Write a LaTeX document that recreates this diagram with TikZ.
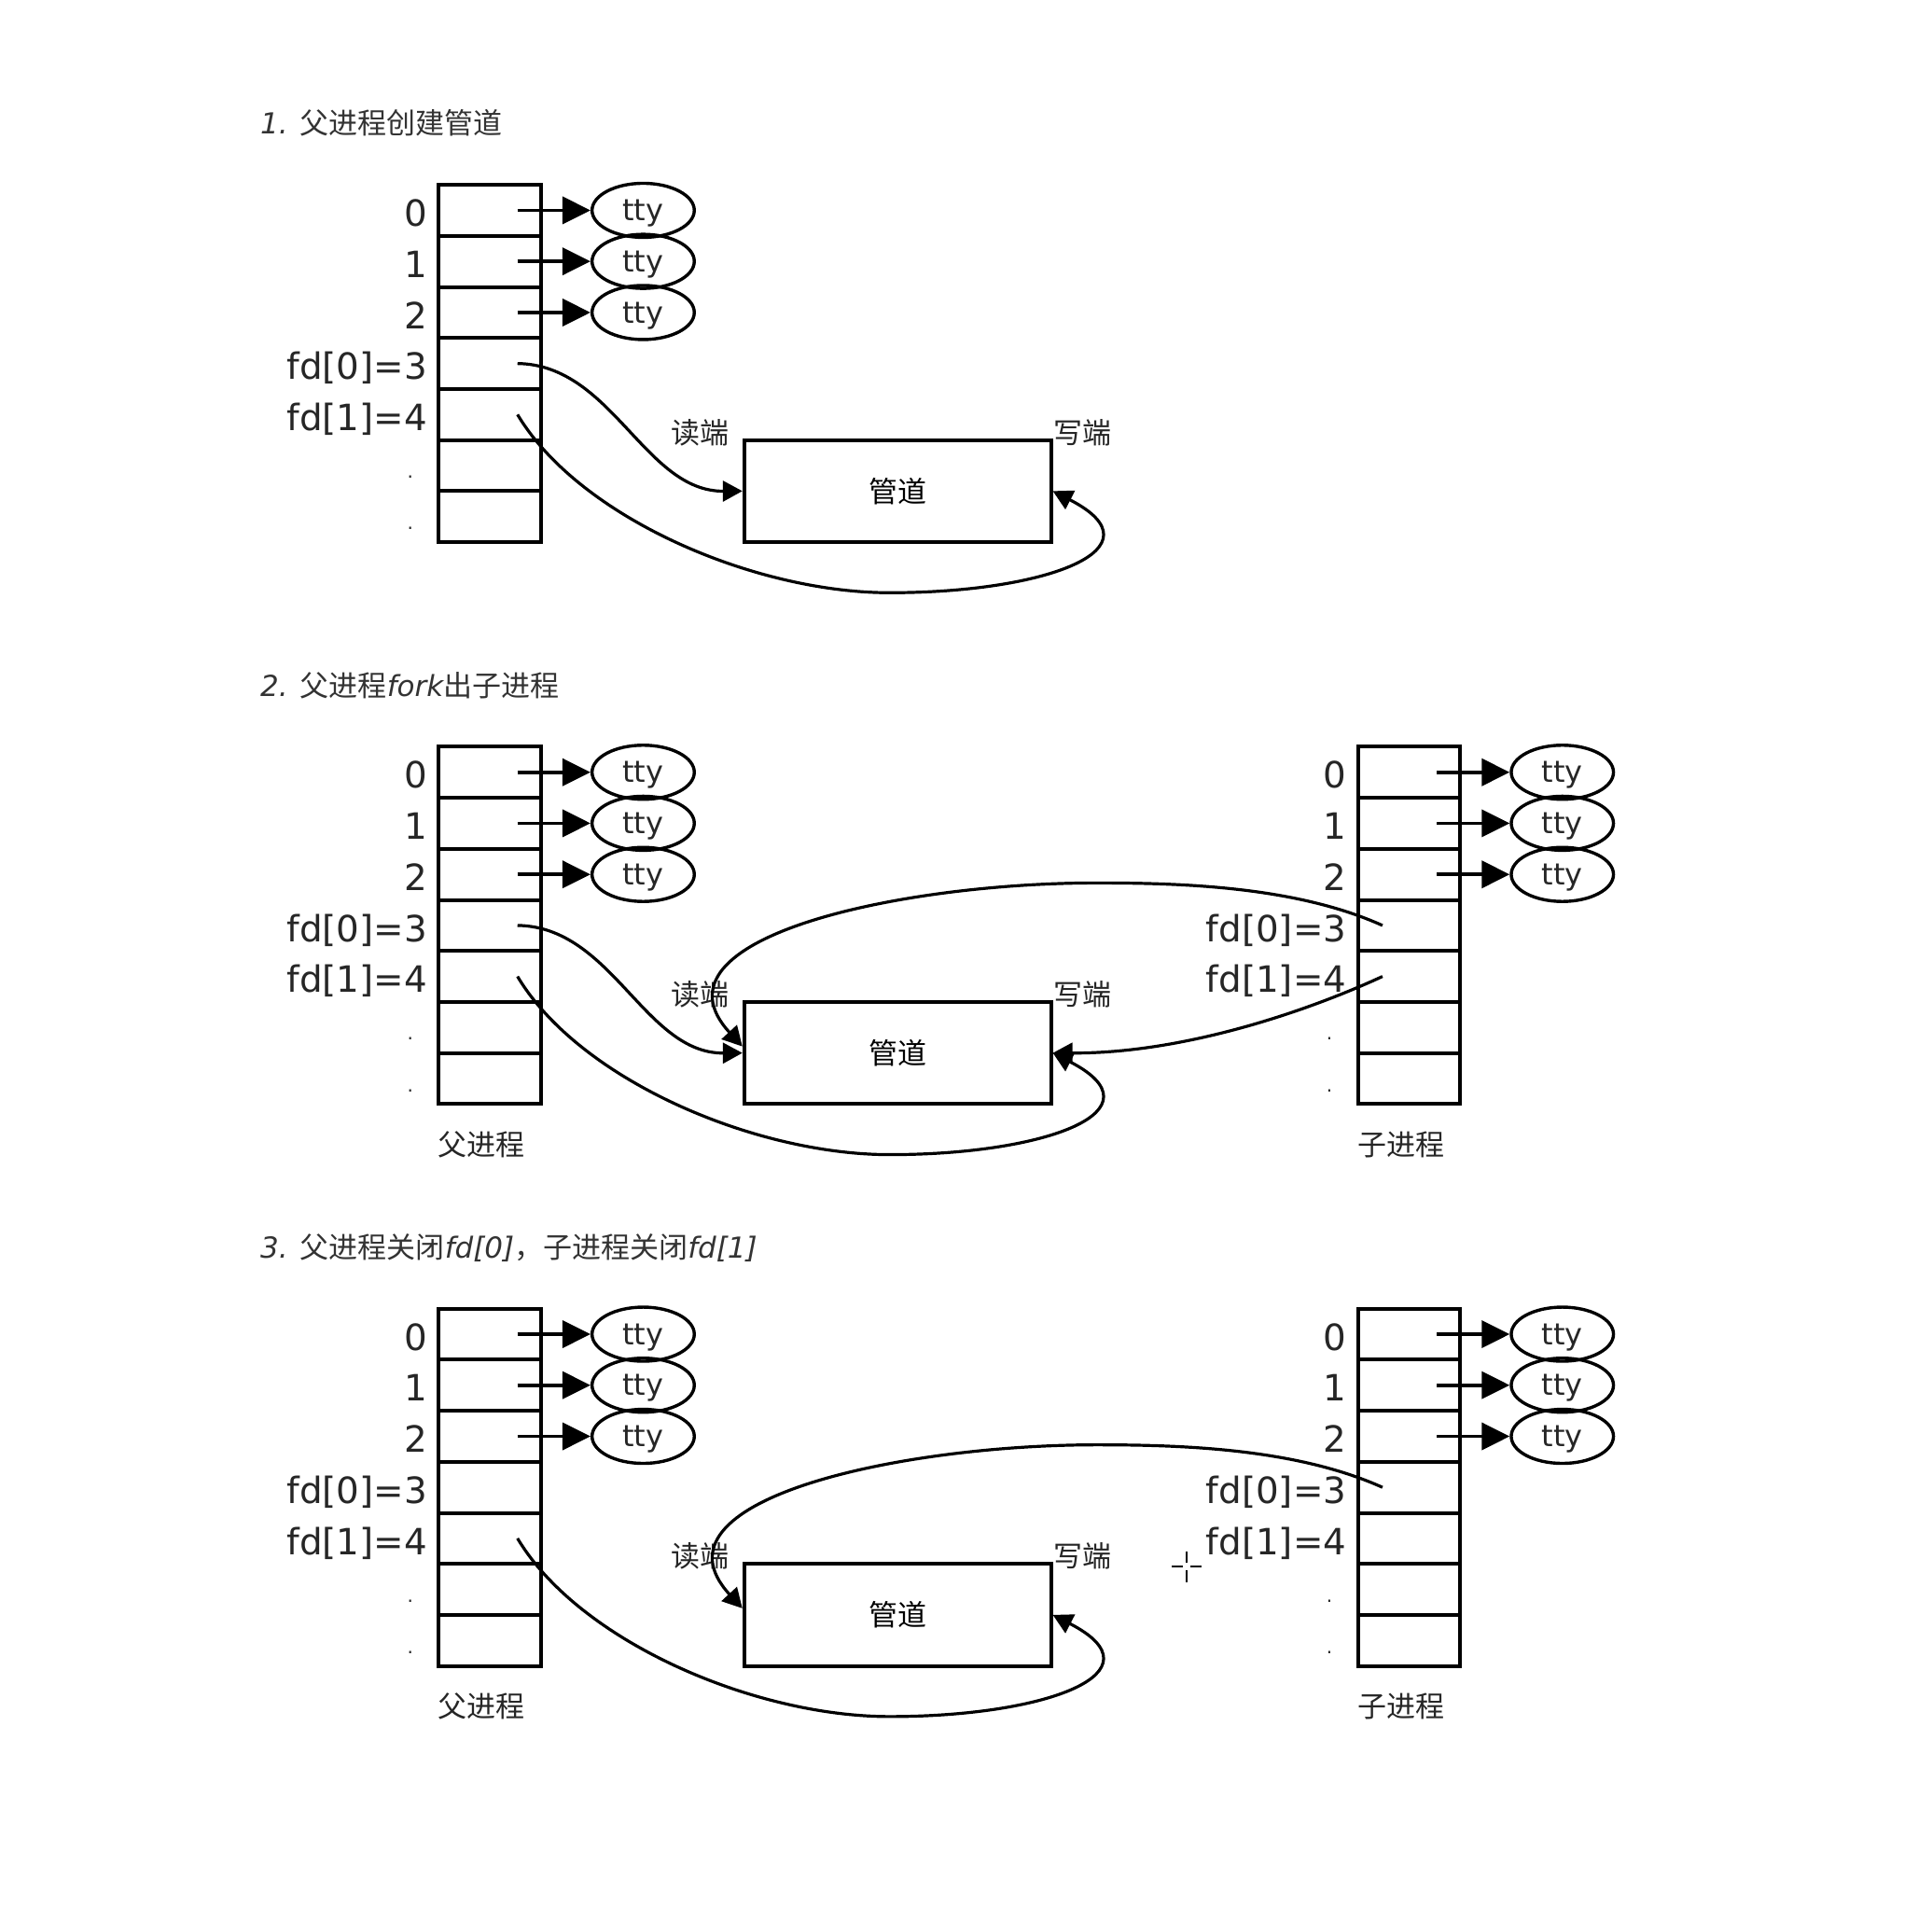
\documentclass[tikz,border=0pt]{standalone}
\usepackage{fontspec}
\setmainfont{DejaVu Sans}
\newfontfamily\cjk{Noto Sans CJK SC}
\usetikzlibrary{arrows.meta,shapes.geometric}

\tikzset{
  rowbox/.style={draw, line width=2pt, minimum width=54.8pt, minimum height=27.36pt, inner sep=0pt, outer sep=0pt},
  lab/.style={anchor=base east, inner sep=0pt, font=\fontsize{19.4}{22}\selectfont, text=black!85},
  dotlab/.style={anchor=base, inner sep=0pt, font=\fontsize{10}{12}\selectfont, text=black!85},
  ttyn/.style={draw, ellipse, line width=1.7pt, minimum width=54.8pt, minimum height=29pt, inner sep=0pt, text depth=0pt, font=\fontsize{16}{18}\selectfont, text=black!85},
  ttyarr/.style={line width=1.9pt, -{Triangle[length=15pt,width=14.5pt]}},
  curvearr/.style={line width=1.6pt, -{Triangle[length=10.5pt,width=11pt]}},
  pipebox/.style={draw, line width=2pt, minimum width=164.4pt, minimum height=54.8pt, inner sep=0pt, font=\cjk\fontsize{15.5}{18}\selectfont},
  cjklab/.style={inner sep=0pt, font=\cjk\fontsize{15.5}{18}\selectfont, text=black!85},
  ttl/.style={anchor=west, inner sep=0pt, font=\fontsize{15.5}{18}\selectfont, text=black!80},
  cursorline/.style={line width=1pt, black}
}

% #1 prefix, #2 left x of table, #3 x offset of curve starts
\newcommand\fdtable[3]{%
  \foreach \i in {1,...,7}{
    \node[rowbox] (#1r\i) at ({#2+41.5},{150+41.43*(\i-0.5)}) {};
  }
  \node[lab] (#1l0) at ({#2-9},183.7) {0};
  \node[lab] (#1l1) at ({#2-9},225.1) {1};
  \node[lab] (#1l2) at ({#2-9},266.6) {2};
  \node[lab] (#1l3) at ({#2-9},308.0) {fd[0]=3};
  \node[lab] (#1l4) at ({#2-9},349.4) {fd[1]=4};
  \node[dotlab] (#1d1) at ({#2-23},388) {.};
  \node[dotlab] (#1d2) at ({#2-23},430) {.};
  \foreach \i/\yy in {1/170.7,2/212.1,3/253.6}{
    \node[ttyn] (#1t\i) at ({#2+166},\yy) {tty};
    \coordinate (#1a\i) at ({#2+64},\yy);
    \draw[ttyarr] (#1a\i) -- (#1t\i.west);
  }
  \coordinate (#1f0) at ({#2+#3},295.0);
  \coordinate (#1f1) at ({#2+#3},336.4);
}

\newcommand\pipeblock[1]{%
  \node[pipebox] (#1p) at (728.5,398.5) {管道};
  \node[cjklab] (#1rd) at (568,351) {读端};
  \node[cjklab] (#1wr) at (879,351) {写端};
}

\begin{document}
\begin{tikzpicture}[x=0.66045pt,y=-0.66045pt]
\fill[white] (0,0) rectangle (1568,1547);
\useasboundingbox (0,0) rectangle (1568,1547);

% ---------- Panel 1 ----------
\node[ttl] (t1) at (211,100) {\itshape 1. \upshape\cjk 父进程创建管道};
\fdtable{pa}{356}{64}
\pipeblock{ka}
\draw[curvearr] (paf0) .. controls (497,296) and (523,399) .. (kap.west);
\draw[curvearr] (paf1) .. controls (470,420) and (612,481) .. (722,481)
                       .. controls (850,481) and (945,445) .. (kap.east);

% ---------- Panel 2 ----------
\begin{scope}[shift={(0,456)}]
\node[ttl] (t2) at (211,100) {{\itshape 2. }{\cjk 父进程}{\itshape fork}{\cjk 出子进程}};
\fdtable{pb}{356}{64}
\fdtable{cb}{1102}{20}
\pipeblock{kb}
\draw[curvearr] (pbf0) .. controls (497,296) and (523,399) .. (kbp.west);
\draw[curvearr] (pbf1) .. controls (470,420) and (612,481) .. (722,481)
                       .. controls (850,481) and (945,445) .. (kbp.east);
\draw[curvearr] (cbf0) .. controls (1052,263.5) and (960,260.5) .. (890,260.5)
                       .. controls (730,260.5) and (521.6,305.3) .. ([yshift=3.5pt]kbp.west);
\draw[curvearr] (cbf1) .. controls (1060,365) and (960,399) .. (kbp.east);
\node[cjklab] (fb1) at (391,473) {父进程};
\node[cjklab] (fb2) at (1137,473) {子进程};
\end{scope}

% ---------- Panel 3 ----------
\begin{scope}[shift={(0,912)}]
\node[ttl] (t3) at (211,101) {{\itshape 3. }{\cjk 父进程关闭}{\itshape fd[0]}{\cjk ，子进程关闭}{\itshape fd[1]}};
\fdtable{pc}{356}{64}
\fdtable{cc}{1102}{20}
\pipeblock{kc}
\draw[curvearr] (pcf1) .. controls (470,420) and (612,481) .. (722,481)
                       .. controls (850,481) and (945,445) .. (kcp.east);
\draw[curvearr] (ccf0) .. controls (1052,263.5) and (960,260.5) .. (890,260.5)
                       .. controls (730,260.5) and (521.6,305.3) .. ([yshift=3.5pt]kcp.west);
\node[cjklab] (fc1) at (391,473) {父进程};
\node[cjklab] (fc2) at (1137,473) {子进程};
\end{scope}

% cursor crosshair
\draw[cursorline] (951,1271) -- (960,1271) (966,1271) -- (975,1271)
                  (963,1259) -- (963,1268) (963,1274) -- (963,1284);
\end{tikzpicture}
\end{document}
